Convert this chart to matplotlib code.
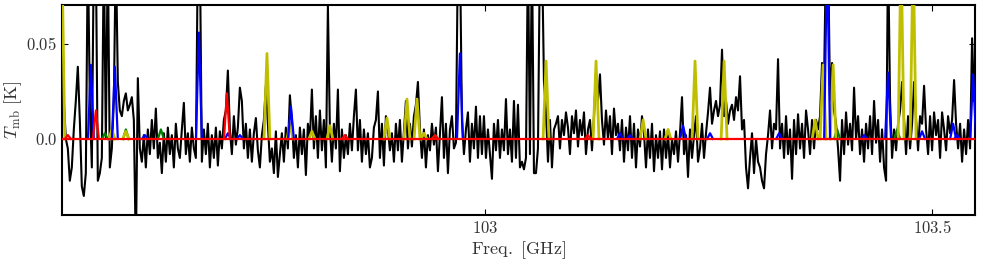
import numpy as np
import matplotlib
matplotlib.use('Agg')
from matplotlib import pyplot as plt

plt.rcParams['mathtext.fontset'] = 'cm'
plt.rcParams['font.family'] = 'serif'

# observed spectrum, mK, one channel every 0.002237 GHz from 102.5268 GHz
f_start = 102.5268
f_step = 0.0022372
spec_mK = [
    60, 20, 0, -5, -22, -15, 5, 20, 38, 10,
    -25, -30, -18, 100, 20, -15, 100, 100, -22, -18,
    -10, 100, 0, 100, -15, -5, 20, 100, 30, 15,
    12, 20, 24, 15, 18, 22, 10, -60, 32, -5,
    -12, 2, -15, 5, -8, 10, -5, 16, -10, -2,
    -18, 3, -12, 6, -8, 2, -15, 8, -5, -10,
    5, 19, -8, 3, -12, 6, -5, -10, 100, 100,
    -12, 5, -8, 8, -15, 2, -10, 6, -14, 4,
    -5, 10, 15, 36, 5, -8, 12, -3, 6, 27,
    20, -5, 8, -10, 5, -12, 3, 11, -6, -15,
    2, 10, 28, 8, -12, -5, -18, 4, -20, -8,
    3, -12, 6, -5, 23, 10, -10, 2, -15, 6,
    -8, 5, -19, 8, 0, 26, -5, 12, -10, 15,
    -6, 10, -15, 70, 5, -12, 8, -5, 26, -17,
    5, -10, 2, -8, 8, -6, 12, 26, -6, 10,
    -12, 5, -8, 3, -15, -10, 6, 10, 25, -10,
    8, -14, 12, 5, -6, 3, -12, 8, -6, 10,
    -12, 4, 20, -5, 8, -4, 12, 18, 30, 5,
    -10, 5, -15, 2, -6, 8, -3, 6, -17, 3,
    22, -10, 8, -18, 5, 12, -5, -2, 100, 100,
    10, -8, 5, 14, -12, 8, -5, 17, -10, 12,
    -8, 12, -10, 5, -8, -21, 8, -6, 10, -10,
    5, -6, 21, -8, 5, -12, 20, -10, 18, -15,
    -12, -16, -10, 100, -8, 100, -18, -18, -5, 100,
    100, 30, 15, -12, 10, -15, 5, 8, 12, -5,
    10, 2, 14, 6, -8, 12, 3, 15, -4, 10,
    2, 14, -8, 5, 10, -6, 12, 35, 20, 34,
    10, -3, 15, 0, 12, -8, 16, 2, 8, -6,
    10, -12, 6, -6, 12, -10, 8, -15, 5, -4,
    12, 3, -15, 5, -10, 8, -17, 2, -10, 4,
    -16, 5, -10, 3, -15, 0, -8, 4, -12, 3,
    22, -8, 2, -20, 5, -10, 2, 12, -12, -5,
    8, -10, 3, 14, 27, 8, 15, 20, 12, 18,
    47, 12, 20, 8, 15, 18, 10, 22, 15, 33,
    5, 10, -15, -26, -10, 3, -18, 0, -12, -15,
    -22, -26, -8, 2, 15, -5, 8, 5, 42, -5,
    8, -10, 12, -8, 5, -21, 10, -8, 13, -5,
    8, -10, 15, 5, -8, 10, -5, 10, 5, 12,
    40, 30, 100, 100, 20, 40, 15, 8, -5, -22,
    10, -8, 14, -3, 8, -6, 27, 0, 12, -8,
    5, -12, 8, -5, 12, -8, 20, -2, 10, -12,
    5, -15, -22, 100, 20, -10, 5, -6, 8, 15,
    30, 10, -8, 12, -5, 8, 30, 10, -6, 12,
    8, 28, 5, -8, 12, -6, 14, 2, 10, -10,
    14, 5, -6, 12, 3, 10, 31, 8, -5, 8,
    -12, 5, -8, 10, -5, 53, 20,
]

# model lines per species: centre (GHz), peak (mK)
yellow_f = [102.5268, 102.5828, 102.5984, 102.7562, 102.7819, 102.8065, 102.8266, 102.8904,
            102.9128, 102.9240, 102.9318, 103.0683, 103.1242, 103.1768, 103.2047, 103.2349,
            103.2674, 103.3692, 103.3781, 103.3893, 103.4653, 103.4788]
yellow_h = [100, 5, 4, 45, 8, 4, 7, 11, 21, 21, 3, 41, 41, 10, 5, 41, 41, 10, 39, 39, 100, 100]
blue_f = [102.5593, 102.5861, 102.6197, 102.6801, 102.7125, 102.7260, 102.7830, 102.9720,
          103.1510, 103.1622, 103.2215, 103.2517, 103.3289, 103.3826, 103.4240, 103.4508,
          103.4888, 103.5235, 103.5280, 103.5459]
blue_h = [39, 38, 2, 56, 3, 2, 17, 45, 3, 2, 7, 3, 3, 100, 2, 35, 4, 8, 2, 34]
red_f = [102.5336, 102.5649, 102.7114, 102.8434, 102.9441, 103.1152]
red_h = [2, 15, 24, 2, 2, 2]
green_f = [102.5749, 102.5984, 102.6376, 102.9441, 103.3938, 103.4609]
green_h = [3, 5, 5, 2, 5, 5]


def draw_lines(ax, centres, peaks, colour, half=0.0033, lw=1.6):
    for f0, h in zip(centres, peaks):
        ax.plot([f0 - half, f0, f0 + half], [0, h / 1000., 0], color=colour, lw=lw, zorder=3)


fig = plt.figure(figsize=(9.81, 2.65), dpi=100)
ax = fig.add_axes([0.0632, 0.189, 0.9307, 0.792])

spec = np.array(spec_mK) / 1000.
freq = f_start + f_step * np.arange(len(spec))
ax.plot(freq, spec, color='black', lw=1.5, zorder=2)

draw_lines(ax, green_f, green_h, 'g')
draw_lines(ax, yellow_f, yellow_h, 'y', lw=2.0)
draw_lines(ax, blue_f, blue_h, 'b')
draw_lines(ax, red_f, red_h, 'r')
ax.axhline(0, color='r', lw=1.6, zorder=4)

ax.set_xlim(102.527, 103.548)
ax.set_ylim(-0.040, 0.0705)
ax.set_xticks([103, 103.5])
ax.set_xticklabels([r'$103$', r'$103.5$'])
ax.set_yticks([0.0, 0.05])
ax.set_yticklabels([r'$0.0$', r'$0.05$'])
ax.tick_params(direction='in', top=True, right=True, length=4, labelsize=12,
               labelcolor='#333333')
for sp in ax.spines.values():
    sp.set_linewidth(1.5)

ax.set_xlabel(r'$\mathrm{Freq.\ [GHz]}$', fontsize=13, color='#333333', labelpad=2)
ax.set_ylabel(r'$T_{\rm mb}\ \mathrm{[K]}$', fontsize=13, color='#333333', labelpad=2)

fig.savefig('out.png', dpi=100)
